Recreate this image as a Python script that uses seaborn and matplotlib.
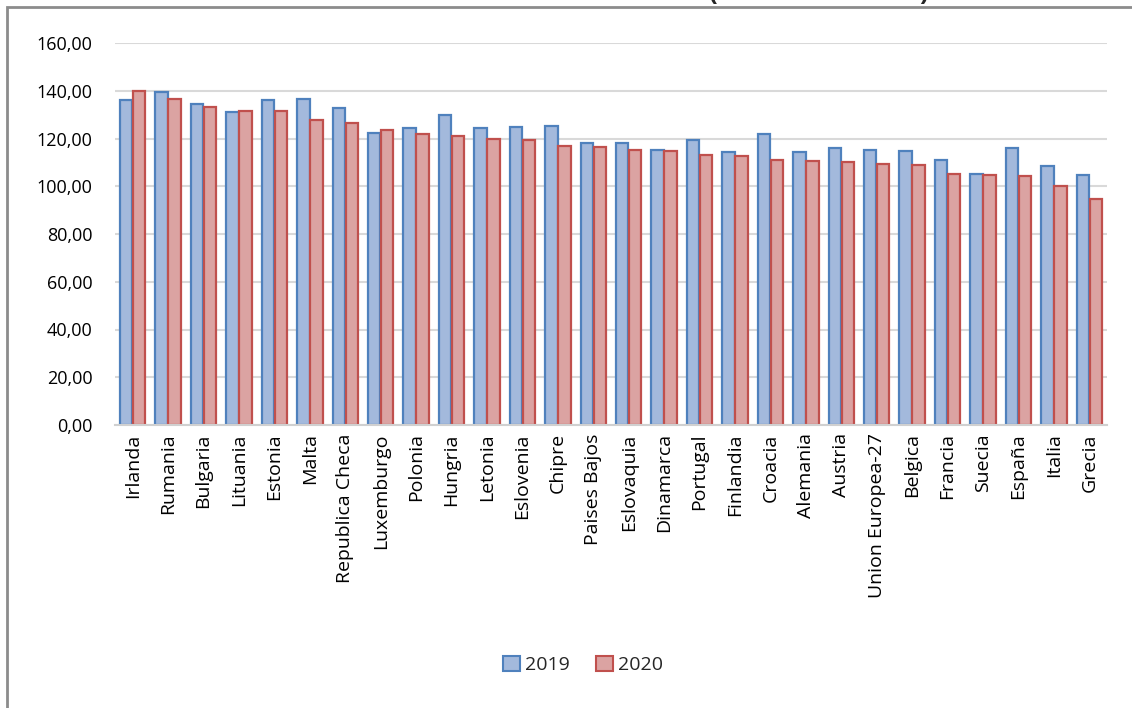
import matplotlib
matplotlib.use("Agg")
import matplotlib.pyplot as plt
from matplotlib.patches import Rectangle, Patch
from matplotlib.ticker import FuncFormatter
import pandas as pd
import seaborn as sns

paises = [
    "Irlanda", "Rumania", "Bulgaria", "Lituania", "Estonia", "Malta",
    "Republica Checa", "Luxemburgo", "Polonia", "Hungria", "Letonia",
    "Eslovenia", "Chipre", "Paises Bajos", "Eslovaquia", "Dinamarca",
    "Portugal", "Finlandia", "Croacia", "Alemania", "Austria",
    "Union Europea-27", "Belgica", "Francia", "Suecia", "España",
    "Italia", "Grecia",
]
valores_2019 = [
    136.0, 139.6, 134.6, 131.0, 136.0, 136.5, 132.7, 122.5, 124.4, 130.0,
    124.4, 124.8, 125.1, 118.3, 118.3, 115.0, 119.5, 114.2, 122.0, 114.5,
    116.0, 115.1, 114.8, 111.2, 105.0, 116.0, 108.5, 104.6,
]
valores_2020 = [
    139.8, 136.6, 133.2, 131.6, 131.4, 127.6, 126.6, 123.6, 122.0, 121.1,
    119.8, 119.5, 117.0, 116.3, 115.2, 114.8, 113.1, 112.8, 110.9, 110.6,
    110.1, 109.5, 108.8, 105.1, 104.8, 104.5, 100.2, 94.6,
]
anios = ["2019", "2020"]

relleno = {"2019": "#A3B9DC", "2020": "#DBA3A2"}
borde = {"2019": "#4F81BD", "2020": "#C0504D"}

df = pd.DataFrame({
    "pais": paises * 2,
    "valor": valores_2019 + valores_2020,
    "anio": [anios[0]] * len(paises) + [anios[1]] * len(paises),
})

sns.set_theme(style="white")
plt.rcParams["font.family"] = ["Open Sans", "DejaVu Sans"]

fig = plt.figure(figsize=(11.32, 7.08), dpi=100)
ax = fig.add_axes([115 / 1132, 1 - 425 / 708, (1107 - 115) / 1132, (425 - 43) / 708])

sns.barplot(
    data=df, x="pais", y="valor", hue="anio", hue_order=anios,
    palette=relleno, width=0.74, gap=0.05, ax=ax, legend=False,
    saturation=1,
)
for cont, anio in zip(ax.containers, anios):
    for barra in cont:
        barra.set_edgecolor(borde[anio])
        barra.set_linewidth(1.6)

ax.set_ylim(0, 160)
ax.set_yticks(range(0, 161, 20))
ax.yaxis.set_major_formatter(FuncFormatter(lambda v, _: f"{v:.2f}".replace(".", ",")))
ax.grid(axis="y", color="#D9D9D9", linewidth=1.5)
ax.set_axisbelow(True)
for lado in ["top", "right", "left"]:
    ax.spines[lado].set_visible(False)
ax.spines["bottom"].set_color("#D0D0D0")
ax.spines["bottom"].set_linewidth(1.5)
ax.set_xlabel("")
ax.set_ylabel("")
ax.tick_params(axis="both", length=0, colors="black")
ax.tick_params(axis="y", pad=16, labelsize=13)
ax.tick_params(axis="x", pad=6, labelsize=14)
plt.setp(ax.get_xticklabels(), rotation=90)

# Legend below the plot area
manijas = [Patch(facecolor=relleno[a], edgecolor=borde[a], linewidth=1.5, label=a) for a in anios]
fig.legend(handles=manijas, loc="center", bbox_to_anchor=(583 / 1132, 1 - 665 / 708),
           ncol=2, frameon=False, fontsize=14, handlelength=0.85, handleheight=0.85,
           handletextpad=0.25, columnspacing=1.4)

# Chart frame, with the title sitting above its top edge
fig.patches.append(Rectangle((7 / 1132, -0.05), 1.2, 1 - 7 / 708 + 0.05,
                             transform=fig.transFigure, fill=False,
                             edgecolor="#8C8C8C", linewidth=2))
fig.text(567 / 1132, 1 + 1 / 708,
         "Gráfico 6. Producto Interior Bruto real (base 2010 = 100)",
         ha="center", va="baseline", fontsize=19, fontweight="bold")

fig.savefig("out.png", dpi=100, facecolor="white")
